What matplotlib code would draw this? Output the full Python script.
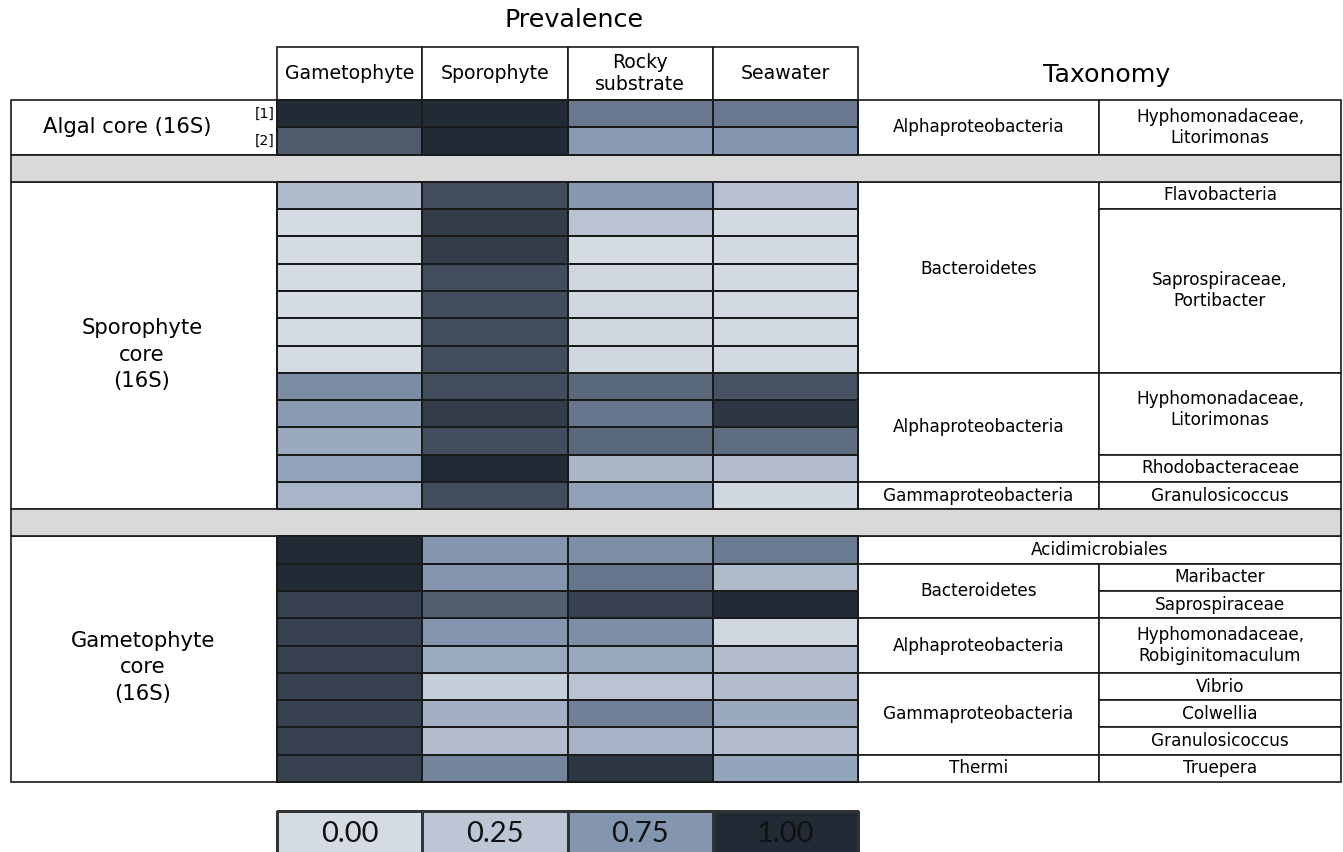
import numpy as np
import matplotlib
matplotlib.use('Agg')
import matplotlib.pyplot as plt
from matplotlib.colors import LinearSegmentedColormap, Normalize
from matplotlib.patches import Rectangle

# sample types (heatmap columns)
samples = ['Gametophyte', 'Sporophyte', 'Rocky\nsubstrate', 'Seawater']

# prevalence of each core ASV per sample type
algal_core = [
    [1.00, 1.00, 0.82, 0.82],
    [0.885, 1.00, 0.70, 0.75],
]
sporophyte_core = [
    [0.37, 0.916, 0.73, 0.31],
    [0.00, 0.954, 0.28, 0.03],
    [0.00, 0.954, 0.00, 0.02],
    [0.00, 0.916, 0.06, 0.02],
    [0.00, 0.916, 0.05, 0.04],
    [0.00, 0.916, 0.05, 0.04],
    [0.00, 0.916, 0.05, 0.04],
    [0.773, 0.916, 0.855, 0.905],
    [0.705, 0.954, 0.824, 0.969],
    [0.55, 0.916, 0.855, 0.844],
    [0.616, 1.00, 0.41, 0.34],
    [0.43, 0.916, 0.65, 0.05],
]
gametophyte_core = [
    [1.00, 0.75, 0.768, 0.816],
    [1.00, 0.75, 0.824, 0.375],
    [0.949, 0.875, 0.949, 1.00],
    [0.949, 0.75, 0.768, 0.06],
    [0.949, 0.536, 0.55, 0.34],
    [0.949, 0.16, 0.28, 0.34],
    [0.949, 0.48, 0.80, 0.55],
    [0.949, 0.34, 0.45, 0.34],
    [0.949, 0.786, 0.969, 0.607],
]

# taxonomy: (label, number of rows spanned)
algal_class = [('Alphaproteobacteria', 2)]
algal_family = [('Hyphomonadaceae,\nLitorimonas', 2)]
spor_class = [('Bacteroidetes', 7), ('Alphaproteobacteria', 4), ('Gammaproteobacteria', 1)]
spor_family = [('Flavobacteria', 1), ('Saprospiraceae,\nPortibacter', 6),
               ('Hyphomonadaceae,\nLitorimonas', 3), ('Rhodobacteraceae', 1),
               ('Granulosicoccus', 1)]
gam_class = [('Acidimicrobiales', 1), ('Bacteroidetes', 2), ('Alphaproteobacteria', 2),
             ('Gammaproteobacteria', 3), ('Thermi', 1)]
gam_family = [(None, 1), ('Maribacter', 1), ('Saprospiraceae', 1),
              ('Hyphomonadaceae,\nRobiginitomaculum', 2), ('Vibrio', 1),
              ('Colwellia', 1), ('Granulosicoccus', 1), ('Truepera', 1)]

legend_values = [0.00, 0.25, 0.75, 1.00]

# colour scale
cmap = LinearSegmentedColormap.from_list(
    'prev', [(0.0, '#d5dbe3'), (0.25, '#bdc6d5'), (0.75, '#8496b0'), (1.0, '#222a35')])
norm = Normalize(0, 1)

# LAYOUT (pixel units)
W, H = 1343, 852
LEFT, HEAT_L, HEAT_R, TAX_M, RIGHT = 11, 277, 858, 1099, 1341
TOP, RH = 100, 27.28
x_edges = np.linspace(HEAT_L, HEAT_R, len(samples) + 1)
LW = 1.2
EC = '#1a1a1a'
TAX_FS = 12.2

fig = plt.figure(figsize=(W / 100, H / 100), dpi=100)
ax = fig.add_axes([0, 0, 1, 1])
ax.set_xlim(0, W)
ax.set_ylim(H, 0)
ax.axis('off')


def row_y(i):
    return TOP + i * RH


def box(x0, x1, r0, n, fc='white'):
    ax.add_patch(Rectangle((x0, row_y(r0)), x1 - x0, n * RH,
                           facecolor=fc, edgecolor=EC, lw=LW, zorder=1))


def taxonomy(classes, families, start):
    r = start
    for label, n in classes:
        span_both = label == 'Acidimicrobiales'
        box(HEAT_R, RIGHT if span_both else TAX_M, r, n)
        xc = (HEAT_R + RIGHT) / 2 if span_both else (HEAT_R + TAX_M) / 2
        # tall cells keep their label a little above the middle
        yc = row_y(r + n / 2) - (8 if n > 4 else 0)
        ax.text(xc, yc, label, ha='center', va='center',
                fontsize=TAX_FS, linespacing=1.22, zorder=3)
        r += n
    r = start
    for label, n in families:
        if label is not None:
            box(TAX_M, RIGHT, r, n)
            yc = row_y(r + n / 2) - (4 if n == 3 else 0)
            ax.text((TAX_M + RIGHT) / 2, yc, label, ha='center',
                    va='center', fontsize=TAX_FS, linespacing=1.22, zorder=3)
        r += n


def section(data, start, title, ty_off, tx):
    data = np.array(data)
    n = len(data)
    box(LEFT, HEAT_L, start, n)
    y_edges = row_y(start + np.arange(n + 1))
    ax.pcolormesh(x_edges, y_edges, data, cmap=cmap, norm=norm,
                  edgecolors=EC, linewidth=LW, zorder=2)
    ax.text(tx, row_y(start + n / 2) + ty_off, title, ha='center', va='center',
            fontsize=15.2, linespacing=1.4, zorder=3)


# sections
section(algal_core, 0, 'Algal core (16S)', 0, 127)
section(sporophyte_core, 3, 'Sporophyte\ncore\n(16S)', 9, 142)
section(gametophyte_core, 16, 'Gametophyte\ncore\n(16S)', 8, 143)

taxonomy(algal_class, algal_family, 0)
taxonomy(spor_class, spor_family, 3)
taxonomy(gam_class, gam_family, 16)

# grey separators
for r in [2, 15]:
    box(LEFT, RIGHT, r, 1, fc='#d9d9d9')

# row tags in algal core
for i, tag in enumerate(['[1]', '[2]']):
    ax.text(HEAT_L - 2, row_y(i + 0.5), tag, ha='right', va='center', fontsize=10, zorder=3)

# column headers
for i, name in enumerate(samples):
    ax.add_patch(Rectangle((x_edges[i], 47), x_edges[i + 1] - x_edges[i], TOP - 47,
                           facecolor='white', edgecolor=EC, lw=LW, zorder=1))
    ax.text((x_edges[i] + x_edges[i + 1]) / 2, 73.5, name, ha='center', va='center',
            fontsize=13.6, linespacing=1.22, zorder=3)

ax.text(574, 20, 'Prevalence', ha='center', va='center', fontsize=18.3)
ax.text(1107, 75, 'Taxonomy', ha='center', va='center', fontsize=18.2)

# legend
ax.pcolormesh(x_edges, [811, 880], np.array([legend_values]), cmap=cmap, norm=norm,
              edgecolors='#333333', linewidth=0.8, zorder=2)
for i, v in enumerate(legend_values):
    ax.text((x_edges[i] + x_edges[i + 1]) / 2, 834, f'{v:.2f}', ha='center', va='center',
            fontsize=21, family=['Lato', 'DejaVu Sans'], color='#111111', zorder=3)

fig.savefig('out.png', dpi=100, facecolor='white')
